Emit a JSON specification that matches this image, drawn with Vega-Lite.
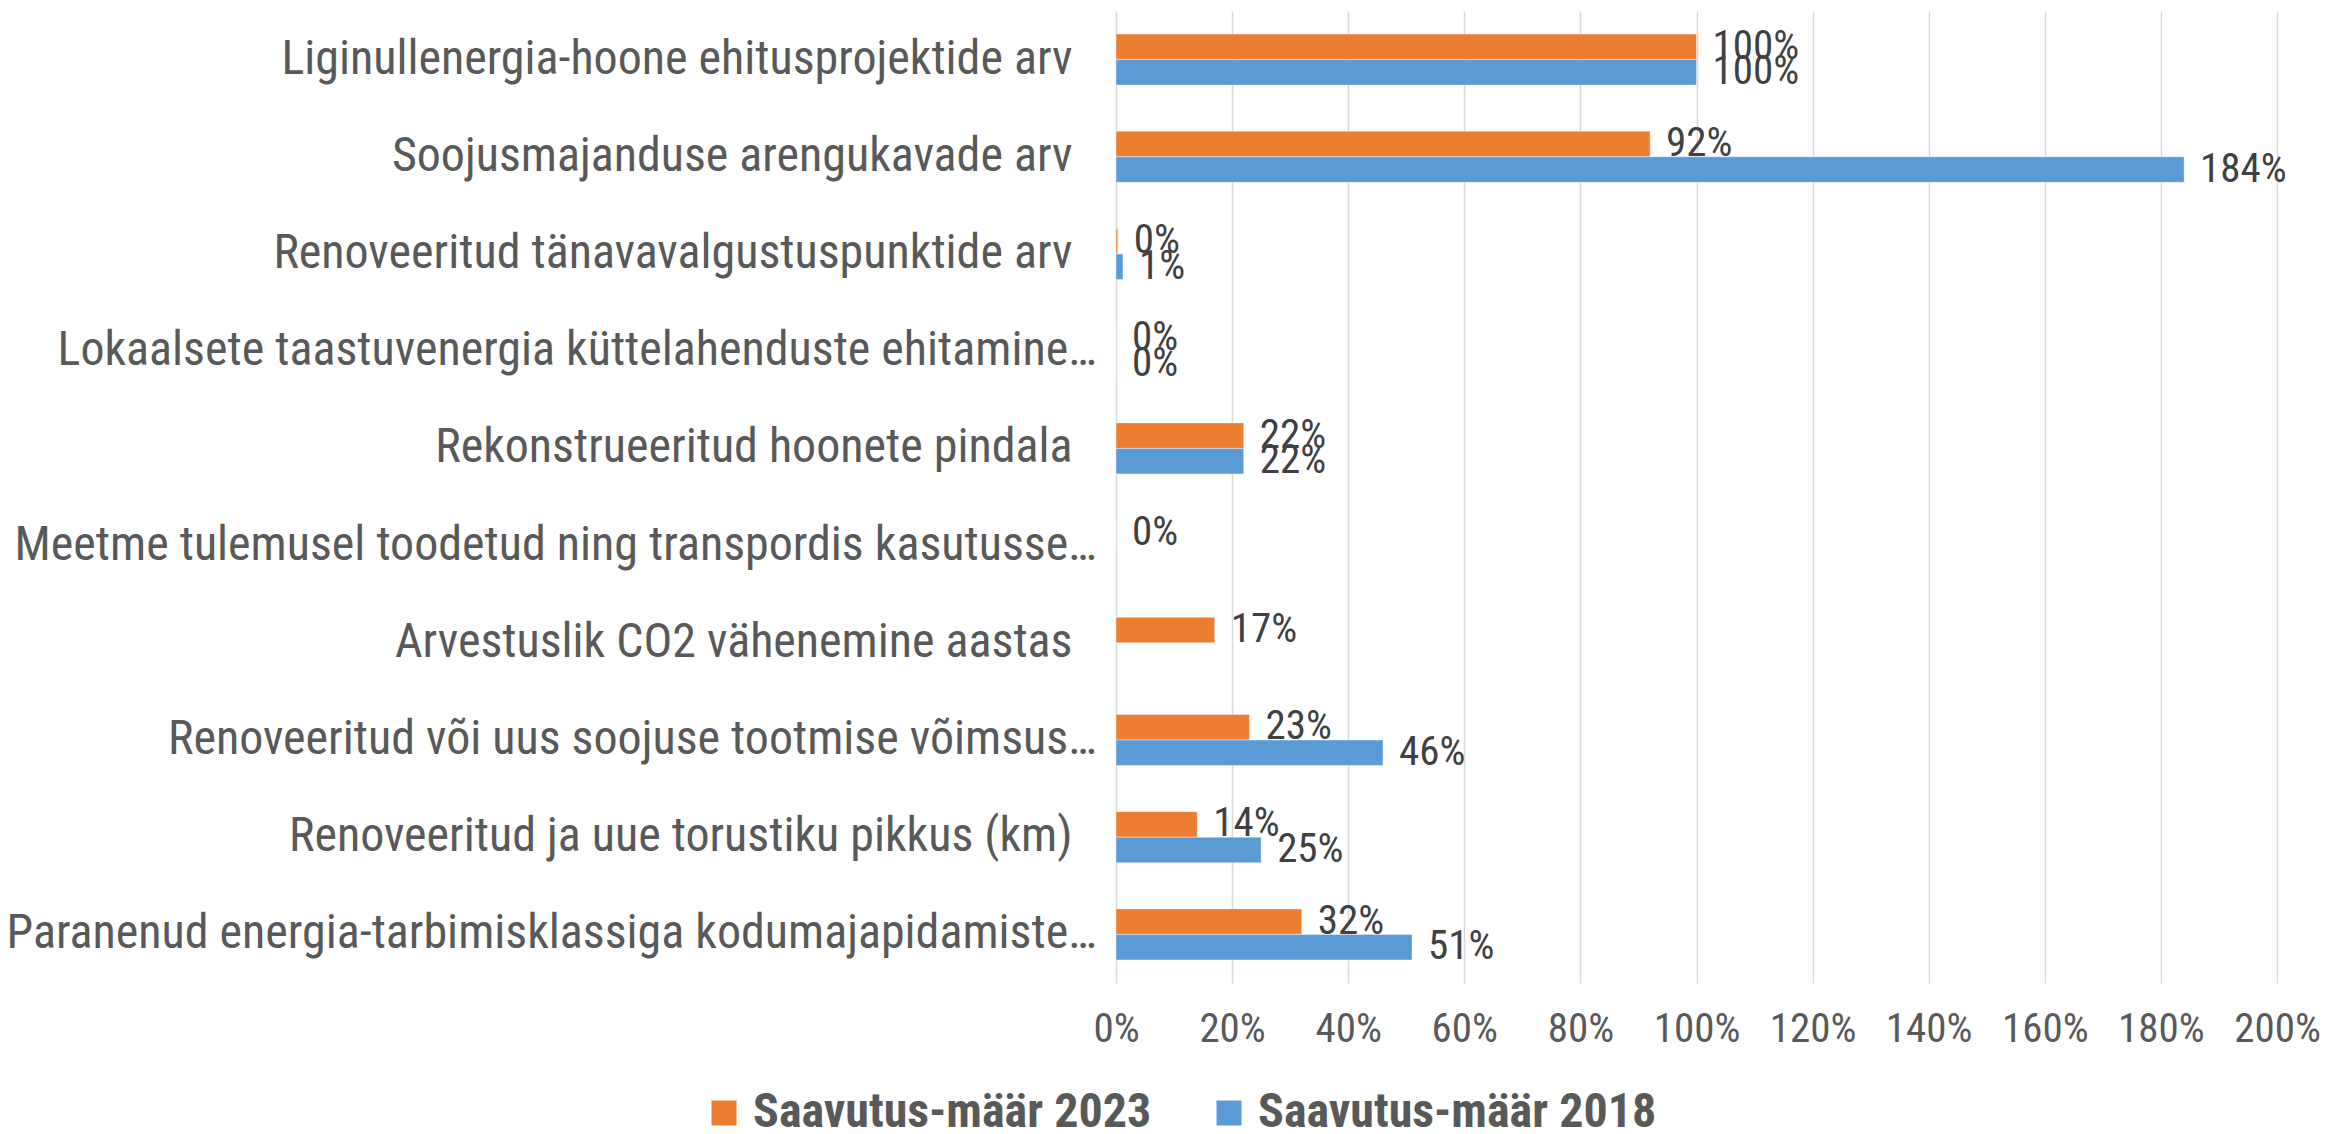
{
  "$schema": "https://vega.github.io/schema/vega-lite/v6.json",
  "width": 1161,
  "height": 972,
  "autosize": {"type": "none"},
  "padding": {"left": 1116, "top": 11, "right": 52, "bottom": 151},
  "background": "white",
  "config": {
    "view": {"stroke": null},
    "font": "Roboto Condensed, Liberation Sans Narrow, DejaVu Sans Condensed, sans-serif"
  },
  "data": {
    "values": [
      {"cat": "Liginullenergia-hoone ehitusprojektide arv", "series": "Saavutus-määr 2023", "value": 1.0},
      {"cat": "Liginullenergia-hoone ehitusprojektide arv", "series": "Saavutus-määr 2018", "value": 1.0},
      {"cat": "Soojusmajanduse arengukavade arv", "series": "Saavutus-määr 2023", "value": 0.92},
      {"cat": "Soojusmajanduse arengukavade arv", "series": "Saavutus-määr 2018", "value": 1.84},
      {"cat": "Renoveeritud tänavavalgustuspunktide arv", "series": "Saavutus-määr 2023", "value": 0.003},
      {"cat": "Renoveeritud tänavavalgustuspunktide arv", "series": "Saavutus-määr 2018", "value": 0.012},
      {"cat": "Lokaalsete taastuvenergia küttelahenduste ehitamine…", "series": "Saavutus-määr 2023", "value": 0},
      {"cat": "Lokaalsete taastuvenergia küttelahenduste ehitamine…", "series": "Saavutus-määr 2018", "value": 0},
      {"cat": "Rekonstrueeritud hoonete pindala", "series": "Saavutus-määr 2023", "value": 0.22},
      {"cat": "Rekonstrueeritud hoonete pindala", "series": "Saavutus-määr 2018", "value": 0.22},
      {"cat": "Meetme tulemusel toodetud ning transpordis kasutusse…", "series": "Saavutus-määr 2023", "value": 0},
      {"cat": "Meetme tulemusel toodetud ning transpordis kasutusse…", "series": "Saavutus-määr 2018", "value": null},
      {"cat": "Arvestuslik CO2 vähenemine aastas", "series": "Saavutus-määr 2023", "value": 0.17},
      {"cat": "Arvestuslik CO2 vähenemine aastas", "series": "Saavutus-määr 2018", "value": null},
      {"cat": "Renoveeritud või uus soojuse tootmise võimsus…", "series": "Saavutus-määr 2023", "value": 0.23},
      {"cat": "Renoveeritud või uus soojuse tootmise võimsus…", "series": "Saavutus-määr 2018", "value": 0.46},
      {"cat": "Renoveeritud ja uue torustiku pikkus (km)", "series": "Saavutus-määr 2023", "value": 0.14},
      {"cat": "Renoveeritud ja uue torustiku pikkus (km)", "series": "Saavutus-määr 2018", "value": 0.25},
      {"cat": "Paranenud energia-tarbimisklassiga kodumajapidamiste…", "series": "Saavutus-määr 2023", "value": 0.32},
      {"cat": "Paranenud energia-tarbimisklassiga kodumajapidamiste…", "series": "Saavutus-määr 2018", "value": 0.51}
    ]
  },
  "encoding": {
    "y": {
      "field": "cat", "type": "nominal", "sort": null, "title": null,
      "scale": {"paddingInner": 0.475, "paddingOuter": 0.2375},
      "axis": {
        "domain": false, "ticks": false, "grid": false,
        "labelFontSize": 48, "labelColor": "#595959",
        "labelPadding": {"condition": {"test": "indexof(datum.value, '…') >= 0", "value": 20}, "value": 44},
        "labelLimit": 1200
      }
    },
    "yOffset": {
      "field": "series", "type": "nominal",
      "sort": ["Saavutus-määr 2023", "Saavutus-määr 2018"],
      "scale": {"paddingInner": 0, "paddingOuter": 0}
    },
    "x": {
      "field": "value", "type": "quantitative", "title": null,
      "scale": {"domain": [0, 2], "nice": false},
      "axis": {
        "values": [0, 0.2, 0.4, 0.6, 0.8, 1.0, 1.2, 1.4, 1.6, 1.8, 2.0],
        "format": ".0%", "domain": false, "ticks": false,
        "grid": true, "gridColor": "#D9D9D9", "gridWidth": 1.5,
        "labelFontSize": 41, "labelColor": "#595959", "labelPadding": 26,
        "labelOverlap": false, "labelFlush": false, "labelBound": false
      }
    }
  },
  "layer": [
    {
      "mark": {"type": "bar", "stroke": "white", "strokeOpacity": 0.4, "strokeWidth": 1},
      "encoding": {
        "color": {
          "field": "series", "type": "nominal",
          "sort": ["Saavutus-määr 2023", "Saavutus-määr 2018"],
          "scale": {"domain": ["Saavutus-määr 2023", "Saavutus-määr 2018"], "range": ["#ED7D31", "#5B9BD5"]},
          "legend": {
            "title": null, "orient": "none", "direction": "horizontal",
            "legendX": -416, "legendY": 1078,
            "symbolType": "square", "symbolSize": 625, "symbolStrokeWidth": 0,
            "labelFontSize": 48, "labelFontWeight": "bold", "labelColor": "#595959",
            "labelOffset": 5, "columnPadding": 53, "labelLimit": 800
          }
        }
      }
    },
    {
      "transform": [{"filter": "datum.value != null"}],
      "mark": {"type": "text", "align": "left", "baseline": "middle", "dx": 16, "fontSize": 41, "color": "#404040"},
      "encoding": {
        "text": {"field": "value", "type": "quantitative", "format": ".0%"}
      }
    }
  ]
}
